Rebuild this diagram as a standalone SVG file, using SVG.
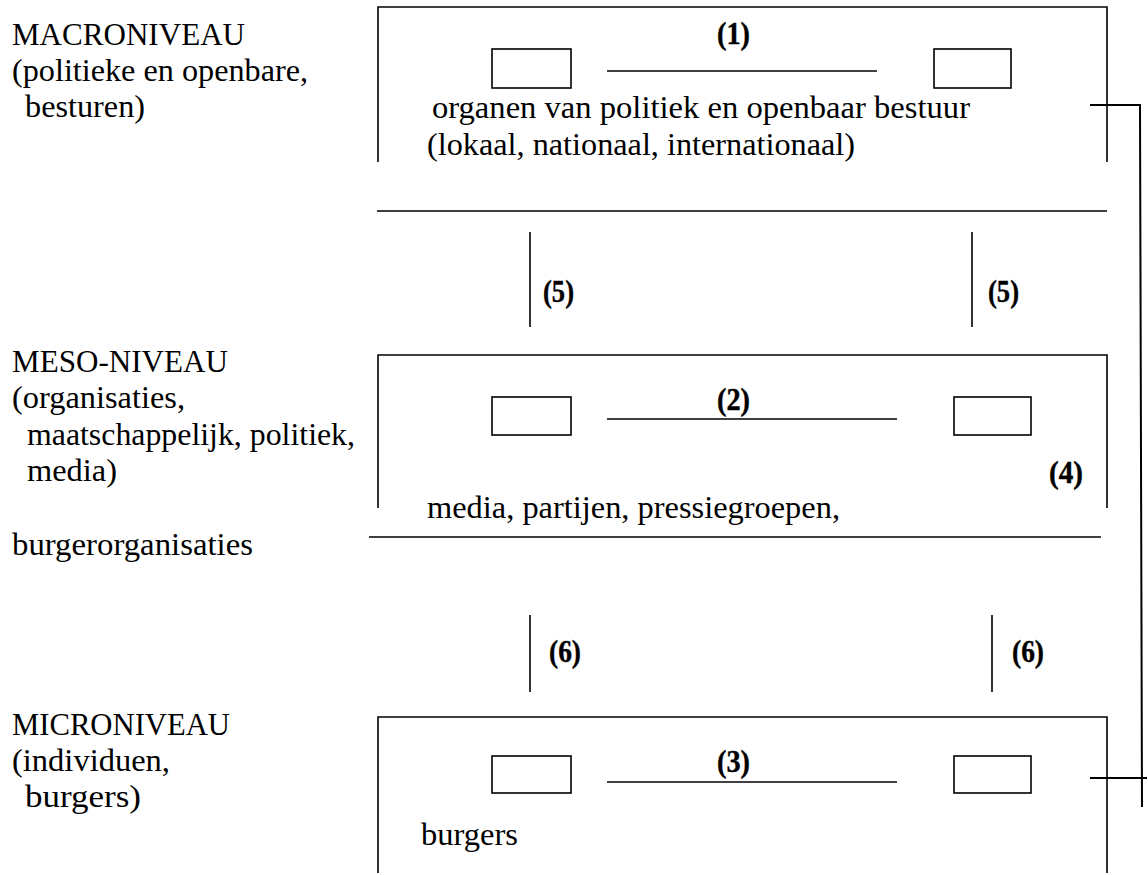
<svg xmlns="http://www.w3.org/2000/svg" width="1148" height="875" viewBox="0 0 1148 875">
<style>
.t{font-family:"Liberation Serif","Times New Roman",serif;font-size:32px;fill:#000}
.b{font-family:"Liberation Serif","Times New Roman",serif;font-size:31px;font-weight:bold;fill:#000;stroke:#000;stroke-width:0.4}
.ln{stroke:#000;stroke-width:1.6;fill:none}
.bx{stroke:#000;stroke-width:1.6;fill:#fff}
.fb{stroke:#000;stroke-width:2;fill:none}
</style>
<rect width="1148" height="875" fill="#fff"/>
<g id="labels">
<text class="t" x="12" y="45" textLength="233" lengthAdjust="spacingAndGlyphs">MACRONIVEAU</text>
<text class="t" x="12" y="81" textLength="296" lengthAdjust="spacingAndGlyphs">(politieke en openbare,</text>
<text class="t" x="25" y="117" textLength="120" lengthAdjust="spacingAndGlyphs">besturen)</text>
<text class="t" x="12" y="372" textLength="216" lengthAdjust="spacingAndGlyphs">MESO-NIVEAU</text>
<text class="t" x="12" y="408" textLength="173" lengthAdjust="spacingAndGlyphs">(organisaties,</text>
<text class="t" x="27" y="445" textLength="328" lengthAdjust="spacingAndGlyphs">maatschappelijk, politiek,</text>
<text class="t" x="27" y="481" textLength="90" lengthAdjust="spacingAndGlyphs">media)</text>
<text class="t" x="12" y="555" textLength="241" lengthAdjust="spacingAndGlyphs">burgerorganisaties</text>
<text class="t" x="12" y="735" textLength="218" lengthAdjust="spacingAndGlyphs">MICRONIVEAU</text>
<text class="t" x="12" y="771" textLength="158" lengthAdjust="spacingAndGlyphs">(individuen,</text>
<text class="t" x="25" y="807" textLength="116" lengthAdjust="spacingAndGlyphs">burgers)</text>
</g>
<g id="macro">
<path class="ln" d="M378,162 V7 H1107 V162"/>
<rect class="bx" x="492" y="49" width="79" height="39"/>
<rect class="bx" x="934" y="49" width="77" height="39"/>
<text class="t" x="432" y="118" textLength="538" lengthAdjust="spacingAndGlyphs">organen van politiek en openbaar bestuur</text>
<text class="t" x="427" y="155" textLength="428" lengthAdjust="spacingAndGlyphs">(lokaal, nationaal, internationaal)</text>
</g>
<g id="meso">
<path class="ln" d="M378,508 V355 H1107 V508"/>
<rect class="bx" x="492" y="397" width="79" height="38"/>
<rect class="bx" x="954" y="397" width="77" height="38"/>
<text class="t" x="427" y="518" textLength="413" lengthAdjust="spacingAndGlyphs">media, partijen, pressiegroepen,</text>
</g>
<g id="micro">
<path class="ln" d="M378,873 V717 H1107 V873"/>
<rect class="bx" x="492" y="756" width="79" height="37"/>
<rect class="bx" x="954" y="756" width="77" height="37"/>
<text class="t" x="421" y="845" textLength="97" lengthAdjust="spacingAndGlyphs">burgers</text>
</g>
<g id="connectors">
<line class="ln" x1="607" y1="71" x2="877" y2="71"/>
<line class="ln" x1="607" y1="419" x2="897" y2="419"/>
<line class="ln" x1="607" y1="782" x2="897" y2="782"/>
<line class="ln" x1="377" y1="211" x2="1107" y2="211"/>
<line class="ln" x1="369" y1="537" x2="1101" y2="537"/>
<line class="ln" x1="530" y1="232" x2="530" y2="327"/>
<line class="ln" x1="972" y1="232" x2="972" y2="327"/>
<line class="ln" x1="530" y1="615" x2="530" y2="692"/>
<line class="ln" x1="992" y1="615" x2="992" y2="692"/>
<path class="fb" d="M1090,105 H1140 L1142,807"/>
<line class="fb" x1="1090" y1="778" x2="1147" y2="778"/>
</g>
<g id="numbers">
<text class="b" x="717" y="44" textLength="33" lengthAdjust="spacingAndGlyphs">(1)</text>
<text class="b" x="717" y="410" textLength="33" lengthAdjust="spacingAndGlyphs">(2)</text>
<text class="b" x="717" y="772" textLength="33" lengthAdjust="spacingAndGlyphs">(3)</text>
<text class="b" x="1049" y="483" textLength="34" lengthAdjust="spacingAndGlyphs">(4)</text>
<text class="b" x="543" y="302" textLength="31" lengthAdjust="spacingAndGlyphs">(5)</text>
<text class="b" x="988" y="302" textLength="31" lengthAdjust="spacingAndGlyphs">(5)</text>
<text class="b" x="549" y="662" textLength="32" lengthAdjust="spacingAndGlyphs">(6)</text>
<text class="b" x="1012" y="662" textLength="32" lengthAdjust="spacingAndGlyphs">(6)</text>
</g>
</svg>
